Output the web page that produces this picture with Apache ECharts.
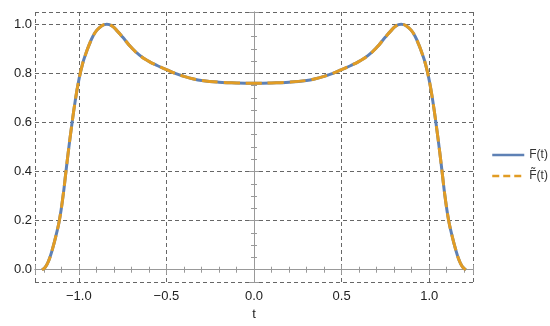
<!DOCTYPE html>
<html>
<head>
<meta charset="utf-8">
<script src="https://cdn.jsdelivr.net/npm/echarts@6/dist/echarts.min.js"></script>
<style>
  html, body { margin: 0; padding: 0; background: #fff; }
  #main { width: 550px; height: 326px; }
</style>
</head>
<body>
<div id="main"></div>
<script>
// values
var tValues = [-1.21, -1.19, -1.17, -1.15, -1.13, -1.11, -1.09, -1.075, -1.06, -1.04, -1.02, -1.0,
    -0.98, -0.96, -0.94, -0.92, -0.9, -0.87, -0.84, -0.81, -0.78, -0.75, -0.7, -0.65, -0.6, -0.55,
    -0.5, -0.45, -0.4, -0.35, -0.3, -0.2, -0.1, 0,
    0.1, 0.2, 0.3, 0.35, 0.4, 0.45, 0.5, 0.55, 0.6, 0.65, 0.7, 0.75, 0.78, 0.81, 0.84, 0.87, 0.9,
    0.92, 0.94, 0.96, 0.98, 1.0, 1.02, 1.04, 1.06, 1.075, 1.09, 1.11, 1.13, 1.15, 1.17, 1.19, 1.21];
var fValues = [0, 0.012, 0.04, 0.085, 0.14, 0.205, 0.3, 0.39, 0.48, 0.59, 0.69, 0.772,
    0.835, 0.88, 0.918, 0.95, 0.973, 0.993, 1.0, 0.993, 0.972, 0.948, 0.905, 0.872, 0.849, 0.831,
    0.815, 0.8, 0.788, 0.778, 0.771, 0.764, 0.761, 0.76,
    0.761, 0.764, 0.771, 0.778, 0.788, 0.8, 0.815, 0.831, 0.849, 0.872, 0.905, 0.948, 0.972, 0.993, 1.0, 0.993, 0.973,
    0.95, 0.918, 0.88, 0.835, 0.772, 0.69, 0.59, 0.48, 0.39, 0.3, 0.205, 0.14, 0.085, 0.04, 0.012, 0];
var fTildeValues = [0, 0.012, 0.04, 0.085, 0.14, 0.205, 0.3, 0.39, 0.48, 0.59, 0.69, 0.772,
    0.835, 0.88, 0.918, 0.95, 0.973, 0.993, 1.0, 0.993, 0.972, 0.948, 0.905, 0.872, 0.849, 0.831,
    0.815, 0.8, 0.788, 0.778, 0.771, 0.764, 0.761, 0.76,
    0.761, 0.764, 0.771, 0.778, 0.788, 0.8, 0.815, 0.831, 0.849, 0.872, 0.905, 0.948, 0.972, 0.993, 1.0, 0.993, 0.973,
    0.95, 0.918, 0.88, 0.835, 0.772, 0.69, 0.59, 0.48, 0.39, 0.3, 0.205, 0.14, 0.085, 0.04, 0.012, 0];
var seriesNames = ['F(t)', 'F\u0303(t)'];

function pairs(ys) {
    var out = [];
    for (var i = 0; i < tValues.length; i++) out.push([tValues[i], ys[i]]);
    return out;
}
function fmt(v) {
    return v.toFixed(1).replace('-', '\u2212');
}

var chart = echarts.init(document.getElementById('main'));
var frameColor = '#999';
var gridLine = { show: true, lineStyle: { color: '#666', type: [4, 3], width: 1 } };
var xLabel = { color: '#222', fontSize: 13, fontFamily: 'Liberation Sans', formatter: fmt,
    margin: 8, showMinLabel: false, showMaxLabel: false };
var yLabel = { color: '#222', fontSize: 13, fontFamily: 'Liberation Sans', formatter: fmt,
    margin: 3, showMinLabel: false, showMaxLabel: false };

var option = {
    animation: false,
    grid: { left: 35, right: 77, top: 12, bottom: 44 },
    legend: {
        orient: 'vertical',
        left: 486,
        top: 144,
        itemWidth: 32,
        itemHeight: 12,
        itemGap: 9,
        itemStyle: { opacity: 0 },
        textStyle: { color: '#333', fontSize: 12, fontFamily: 'Liberation Sans' },
        data: [
            { name: seriesNames[0], lineStyle: { width: 2.5 } },
            { name: seriesNames[1], lineStyle: { width: 2.5, type: [7, 4] } }
        ]
    },
    xAxis: [{
        type: 'value', min: -1.25, max: 1.25, splitNumber: 5,
        name: 't', nameLocation: 'middle', nameGap: 26,
        nameTextStyle: { color: '#222', fontSize: 13, fontFamily: 'Liberation Sans' },
        axisLine: { show: true, lineStyle: { color: frameColor } },
        axisTick: { show: true, inside: true, length: 5, lineStyle: { color: frameColor } },
        minorTick: { show: true, splitNumber: 5, length: 3, lineStyle: { color: frameColor } },
        axisLabel: xLabel,
        splitLine: gridLine
    }, {
        type: 'value', min: -1.25, max: 1.25, splitNumber: 5, position: 'top',
        axisLine: { show: true, lineStyle: { color: frameColor } },
        axisTick: { show: true, inside: true, length: 5, lineStyle: { color: frameColor } },
        minorTick: { show: true, splitNumber: 5, length: 3, lineStyle: { color: frameColor } },
        axisLabel: { show: false },
        splitLine: { show: false }
    }],
    yAxis: [{
        type: 'value', min: -0.05, max: 1.05, splitNumber: 5,
        axisLine: { show: true, lineStyle: { color: frameColor } },
        axisTick: { show: true, inside: true, length: 5, lineStyle: { color: frameColor } },
        minorTick: { show: true, splitNumber: 4, length: 3, lineStyle: { color: frameColor } },
        axisLabel: yLabel,
        splitLine: gridLine
    }, {
        type: 'value', min: -0.05, max: 1.05, splitNumber: 5, position: 'right',
        axisLine: { show: true, lineStyle: { color: frameColor } },
        axisTick: { show: true, inside: true, length: 5, lineStyle: { color: frameColor } },
        minorTick: { show: true, splitNumber: 4, length: 3, lineStyle: { color: frameColor } },
        axisLabel: { show: false },
        splitLine: { show: false }
    }],
    series: [{
        name: seriesNames[0],
        type: 'line',
        smooth: true,
        symbol: 'none',
        data: pairs(fValues),
        lineStyle: { color: '#5E81B5', width: 3 },
        itemStyle: { color: '#5E81B5' }
    }, {
        name: seriesNames[1],
        type: 'line',
        smooth: true,
        symbol: 'none',
        data: pairs(fTildeValues),
        lineStyle: { color: '#E19C24', width: 3, type: [16, 6] },
        itemStyle: { color: '#E19C24' }
    }]
};
chart.setOption(option);
</script>
</body>
</html>
